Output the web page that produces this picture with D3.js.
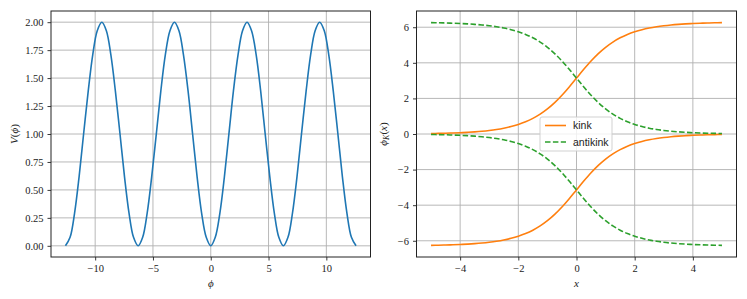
<!DOCTYPE html>
<html>
<head>
<meta charset="utf-8">
<script src="https://cdn.jsdelivr.net/npm/d3@7"></script>
<style>
  body { margin: 0; background: #fff; }
  .tick text { font-family: "Liberation Serif", "DejaVu Serif", serif; font-size: 10.5px; fill: #222; }
  .lab { font-family: "Liberation Serif", "DejaVu Serif", serif; font-size: 11px; fill: #222; font-style: italic; }
  .leg { font-family: "Liberation Sans", Arial, sans-serif; font-size: 10.5px; fill: #222; }
</style>
</head>
<body>
<div id="chart"></div>
<script>
/**
 * DATA
 */
// left panel: potential V(phi), sampled every pi/8
const phi = [-12.57, -12.17, -11.78, -11.39, -11.00, -10.60, -10.21, -9.82, -9.42, -9.03, -8.64, -8.25,
  -7.85, -7.46, -7.07, -6.68, -6.28, -5.89, -5.50, -5.11, -4.71, -4.32, -3.93, -3.53, -3.14, -2.75,
  -2.36, -1.96, -1.57, -1.18, -0.79, -0.39, 0, 0.39, 0.79, 1.18, 1.57, 1.96, 2.36, 2.75, 3.14, 3.53,
  3.93, 4.32, 4.71, 5.11, 5.50, 5.89, 6.28, 6.68, 7.07, 7.46, 7.85, 8.25, 8.64, 9.03, 9.42, 9.82,
  10.21, 10.60, 11.00, 11.39, 11.78, 12.17, 12.57];
const potential = [0, 0.076, 0.293, 0.617, 1, 1.383, 1.707, 1.924, 2, 1.924, 1.707, 1.383, 1, 0.617, 0.293, 0.076,
  0, 0.076, 0.293, 0.617, 1, 1.383, 1.707, 1.924, 2, 1.924, 1.707, 1.383, 1, 0.617, 0.293, 0.076,
  0, 0.076, 0.293, 0.617, 1, 1.383, 1.707, 1.924, 2, 1.924, 1.707, 1.383, 1, 0.617, 0.293, 0.076,
  0, 0.076, 0.293, 0.617, 1, 1.383, 1.707, 1.924, 2, 1.924, 1.707, 1.383, 1, 0.617, 0.293, 0.076, 0];

// right panel: kink / antikink profiles, sampled every 0.25
const xs = [-5, -4.75, -4.5, -4.25, -4, -3.75, -3.5, -3.25, -3, -2.75, -2.5, -2.25, -2, -1.75, -1.5, -1.25,
  -1, -0.75, -0.5, -0.25, 0, 0.25, 0.5, 0.75, 1, 1.25, 1.5, 1.75, 2, 2.25, 2.5, 2.75, 3, 3.25, 3.5, 3.75,
  4, 4.25, 4.5, 4.75, 5];
const kinkUpper = [0.027, 0.035, 0.044, 0.057, 0.073, 0.094, 0.121, 0.155, 0.199, 0.255, 0.328, 0.420, 0.538,
  0.688, 0.878, 1.116, 1.410, 1.765, 2.180, 2.647, 3.142, 3.637, 4.103, 4.518, 4.873, 5.167, 5.405, 5.595,
  5.745, 5.863, 5.956, 6.028, 6.084, 6.128, 6.162, 6.189, 6.210, 6.226, 6.239, 6.249, 6.256];
const kinkLower = [-6.256, -6.249, -6.239, -6.226, -6.210, -6.189, -6.162, -6.128, -6.084, -6.028, -5.956,
  -5.863, -5.745, -5.595, -5.405, -5.167, -4.873, -4.518, -4.103, -3.637, -3.142, -2.647, -2.180, -1.765,
  -1.410, -1.116, -0.878, -0.688, -0.538, -0.420, -0.328, -0.255, -0.199, -0.155, -0.121, -0.094, -0.073,
  -0.057, -0.044, -0.035, -0.027];
const antikinkUpper = [6.256, 6.249, 6.239, 6.226, 6.210, 6.189, 6.162, 6.128, 6.084, 6.028, 5.956, 5.863,
  5.745, 5.595, 5.405, 5.167, 4.873, 4.518, 4.103, 3.637, 3.142, 2.647, 2.180, 1.765, 1.410, 1.116, 0.878,
  0.688, 0.538, 0.420, 0.328, 0.255, 0.199, 0.155, 0.121, 0.094, 0.073, 0.057, 0.044, 0.035, 0.027];
const antikinkLower = [-0.027, -0.035, -0.044, -0.057, -0.073, -0.094, -0.121, -0.155, -0.199, -0.255, -0.328,
  -0.420, -0.538, -0.688, -0.878, -1.116, -1.410, -1.765, -2.180, -2.647, -3.142, -3.637, -4.103, -4.518,
  -4.873, -5.167, -5.405, -5.595, -5.745, -5.863, -5.956, -6.028, -6.084, -6.128, -6.162, -6.189, -6.210,
  -6.226, -6.239, -6.249, -6.256];

const leftXTicks = [-10, -5, 0, 5, 10];
const leftYTicks = [0, 0.25, 0.5, 0.75, 1, 1.25, 1.5, 1.75, 2];
const rightXTicks = [-4, -2, 0, 2, 4];
const rightYTicks = [-6, -4, -2, 0, 2, 4, 6];
const legendLabels = ["kink", "antikink"];

/**
 * LAYOUT
 */
const width = 747, height = 299;
const yTop = 11, yBottom = 257;
const gridColor = "#b0b0b0";
const colors = { blue: "#1f77b4", orange: "#ff7f0e", green: "#2ca02c" };

const svg = d3.select("#chart").append("svg")
  .attr("width", width)
  .attr("height", height);

const minus = d => d3.format("")(d).replace("-", "\u2212");

function panel(x0, x1, xDom, yDom, xTicks, yTicks, yFmt) {
  const x = d3.scaleLinear().domain(xDom).range([x0, x1]);
  const y = d3.scaleLinear().domain(yDom).range([yBottom, yTop]);
  const g = svg.append("g");

  // grid
  g.selectAll(".vg").data(xTicks).join("line")
    .attr("x1", d => x(d)).attr("x2", d => x(d))
    .attr("y1", yTop).attr("y2", yBottom)
    .attr("stroke", gridColor).attr("stroke-width", 0.9);
  g.selectAll(".hg").data(yTicks).join("line")
    .attr("x1", x0).attr("x2", x1)
    .attr("y1", d => y(d)).attr("y2", d => y(d))
    .attr("stroke", gridColor).attr("stroke-width", 0.9);

  const xAxis = g.append("g").attr("transform", `translate(0,${yBottom})`)
    .call(d3.axisBottom(x).tickValues(xTicks).tickSize(3.5).tickPadding(4).tickFormat(minus));
  const yAxis = g.append("g").attr("transform", `translate(${x0},0)`)
    .call(d3.axisLeft(y).tickValues(yTicks).tickSize(3.5).tickPadding(4).tickFormat(yFmt));
  [xAxis, yAxis].forEach(a => {
    a.attr("font-family", null).attr("font-size", null);
    a.select(".domain").remove();
    a.selectAll(".tick line").attr("stroke", "#222").attr("stroke-width", 0.9);
  });

  return { x, y, g };
}

function frame(p, x0, x1) {
  p.g.append("rect")
    .attr("x", x0).attr("y", yTop)
    .attr("width", x1 - x0).attr("height", yBottom - yTop)
    .attr("fill", "none").attr("stroke", "#222").attr("stroke-width", 1);
}

/**
 * LEFT PANEL
 */
const L = panel(51, 370.5, [-13.82, 13.82], [-0.1, 2.1], leftXTicks, leftYTicks, d3.format(".2f"));
const lineL = d3.line().x((d, i) => L.x(phi[i])).y(d => L.y(d)).curve(d3.curveCatmullRom);
L.g.append("path").datum(potential)
  .attr("d", lineL)
  .attr("fill", "none").attr("stroke", colors.blue).attr("stroke-width", 1.6);
frame(L, 51, 370.5);

L.g.append("text").attr("class", "lab")
  .attr("x", L.x(0)).attr("y", 287).attr("text-anchor", "middle").text("\u03d5");
L.g.append("text").attr("class", "lab")
  .attr("transform", `translate(18,${(yTop + yBottom) / 2}) rotate(-90)`)
  .attr("text-anchor", "middle")
  .html('V<tspan font-style="normal">(</tspan>\u03d5<tspan font-style="normal">)</tspan>');

/**
 * RIGHT PANEL
 */
const R = panel(416.5, 736.5, [-5.5, 5.5], [-6.912, 6.912], rightXTicks, rightYTicks, minus);
const lineR = d3.line().x((d, i) => R.x(xs[i])).y(d => R.y(d)).curve(d3.curveCatmullRom);

const series = [
  { values: kinkUpper, color: colors.orange, dash: null },
  { values: kinkLower, color: colors.orange, dash: null },
  { values: antikinkUpper, color: colors.green, dash: "5.5,2.4" },
  { values: antikinkLower, color: colors.green, dash: "5.5,2.4" }
];
R.g.selectAll(".series").data(series).join("path")
  .attr("d", d => lineR(d.values))
  .attr("fill", "none")
  .attr("stroke", d => d.color)
  .attr("stroke-width", 1.6)
  .attr("stroke-dasharray", d => d.dash);
frame(R, 416.5, 736.5);

R.g.append("text").attr("class", "lab")
  .attr("x", R.x(0)).attr("y", 287).attr("text-anchor", "middle").text("x");
R.g.append("text").attr("class", "lab")
  .attr("transform", `translate(387,${(yTop + yBottom) / 2}) rotate(-90)`)
  .attr("text-anchor", "middle")
  .html('\u03d5<tspan font-size="8px" dy="2">K</tspan><tspan font-style="normal" dy="-2">(</tspan>x<tspan font-style="normal">)</tspan>');

// legend
const leg = R.g.append("g").attr("transform", "translate(540,117)");
leg.append("rect")
  .attr("width", 72).attr("height", 34).attr("rx", 2)
  .attr("fill", "#fff").attr("fill-opacity", 0.8)
  .attr("stroke", "#ccc").attr("stroke-width", 0.9);
leg.selectAll(".ll").data(legendLabels).join("line")
  .attr("x1", 5).attr("x2", 26)
  .attr("y1", (d, i) => 8.5 + i * 16.5).attr("y2", (d, i) => 8.5 + i * 16.5)
  .attr("stroke", (d, i) => i ? colors.green : colors.orange)
  .attr("stroke-width", 1.6)
  .attr("stroke-dasharray", (d, i) => i ? "5.5,2.4" : null);
leg.selectAll(".lt").data(legendLabels).join("text")
  .attr("class", "leg")
  .attr("x", 33).attr("y", (d, i) => 12.3 + i * 16.5)
  .text(d => d);
</script>
</body>
</html>
